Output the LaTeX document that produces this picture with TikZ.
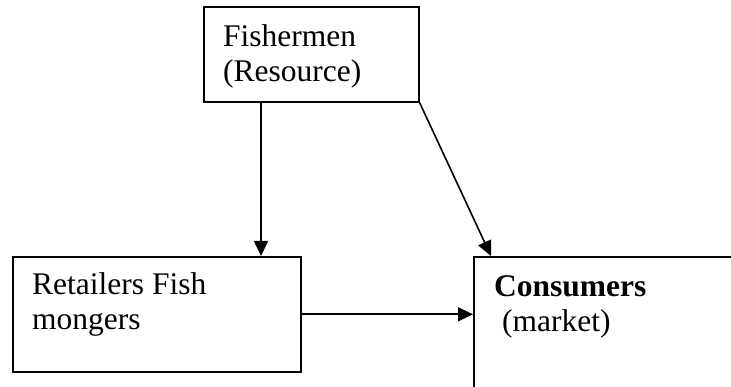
\documentclass[tikz,border=0pt]{standalone}
\usepackage{fontspec}
\setmainfont{Liberation Serif}
\usetikzlibrary{arrows.meta,calc}
\tikzset{
  box/.style={draw, line width=1.6pt, inner sep=0pt, anchor=north west},
  lbl/.style={anchor=base west, inner sep=0pt, font=\fontsize{31.5}{35}\selectfont},
  arr/.style={line width=1.6pt, -{Triangle[length=15pt, width=14pt]}}
}
\begin{document}
\begin{tikzpicture}[x=1pt, y=-1pt]
  \useasboundingbox (0,0) rectangle (731,387);
  \clip (0,0) rectangle (731,387);
  % boxes
  \node[box, minimum width=215pt, minimum height=95pt] (fish) at (203,6) {};
  \node[box, minimum width=288pt, minimum height=115pt] (ret) at (12,256) {};
  \node[box, minimum width=300pt, minimum height=160pt] (cons) at (473,256) {};
  % labels
  \node[lbl] (fish1) at (223,47) {Fishermen};
  \node[lbl] (fish2) at (223,82) {(Resource)};
  \node[lbl] (ret1) at (32,295) {Retailers Fish};
  \node[lbl] (ret2) at (32,330) {mongers};
  \node[lbl] (cons1) at (494,297) {\bfseries Consumers};
  \node[lbl] (cons2) at (494,332) {\ (market)};
  % connectors
  \coordinate (drop) at ([xshift=58pt]fish.south west);
  \draw[arr] (drop) -- (drop |- ret.north);
  \draw[arr] (fish.south east) -- ([xshift=18pt]cons.north west);
  \draw[arr] (ret.east) -- (ret.east -| cons.west);
\end{tikzpicture}
\end{document}
